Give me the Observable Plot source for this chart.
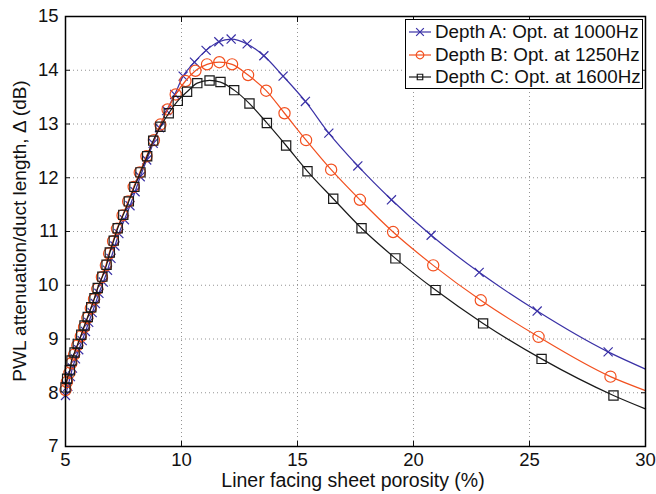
<!DOCTYPE html>
<html>
<head>
<meta charset="utf-8">
<script src="https://cdn.jsdelivr.net/npm/d3@7"></script>
<script src="https://cdn.jsdelivr.net/npm/@observablehq/plot@0.6"></script>
<style>
  html, body { margin: 0; padding: 0; background: #fff; }
  #wrap { position: relative; width: 656px; height: 494px; font-family: "Liberation Sans", Arial, sans-serif; }
  #legend { position: absolute; left: 405px; top: 19px; width: 236px; height: 68px; border: 1.5px solid #000; background: #fff; box-sizing: content-box; }
  .row { position: absolute; left: 0; height: 22px; display: flex; align-items: center; font-size: 18.8px; color: #111; white-space: nowrap; }
  .row svg { margin-left: 3px; margin-right: 4px; }
</style>
</head>
<body>
<div id="wrap"></div>
<script>
// Porosity (%) and attenuation (dB) at marker positions, per series
const xA = [5.0,5.1,5.21,5.3,5.43,5.57,5.72,5.86,6.0,6.15,6.29,6.44,6.63,6.81,6.96,7.13,7.3,7.54,7.78,8.0,8.22,8.5,8.78,9.05,9.36,9.71,10.07,10.56,11.06,11.61,12.14,12.83,13.55,14.38,15.34,16.35,17.6,19.05,20.76,22.83,25.33,28.39];
const yA = [7.95,8.12,8.3,8.46,8.63,8.8,8.97,9.14,9.31,9.49,9.66,9.85,10.06,10.28,10.5,10.73,10.96,11.22,11.48,11.74,12.02,12.33,12.64,12.93,13.25,13.55,13.89,14.15,14.37,14.53,14.58,14.49,14.27,13.89,13.42,12.83,12.22,11.59,10.93,10.24,9.52,8.76];
const xB = [5.0,5.06,5.17,5.25,5.37,5.51,5.66,5.8,5.94,6.09,6.23,6.37,6.57,6.74,6.88,7.05,7.22,7.46,7.7,7.94,8.2,8.49,8.81,9.09,9.4,9.75,10.17,10.6,11.1,11.63,12.18,12.87,13.65,14.44,15.37,16.45,17.69,19.12,20.85,22.9,25.39,28.49];
const yB = [8.05,8.2,8.37,8.55,8.71,8.88,9.05,9.22,9.39,9.57,9.74,9.93,10.15,10.37,10.59,10.82,11.05,11.3,11.56,11.83,12.1,12.4,12.7,12.99,13.27,13.55,13.8,13.99,14.11,14.15,14.11,13.91,13.62,13.2,12.7,12.15,11.59,10.99,10.37,9.72,9.04,8.3];
const xC = [5.0,5.07,5.19,5.26,5.39,5.53,5.68,5.82,5.96,6.11,6.25,6.39,6.59,6.77,6.91,7.08,7.25,7.49,7.73,7.97,8.23,8.52,8.78,9.09,9.45,9.84,10.24,10.68,11.21,11.68,12.27,12.93,13.68,14.51,15.43,16.54,17.76,19.22,20.95,23.0,25.52,28.62];
const yC = [8.1,8.26,8.42,8.6,8.75,8.91,9.08,9.25,9.41,9.59,9.76,9.95,10.16,10.38,10.61,10.83,11.06,11.31,11.56,11.83,12.1,12.4,12.69,12.95,13.2,13.43,13.6,13.76,13.81,13.78,13.63,13.38,13.02,12.6,12.12,11.61,11.06,10.5,9.91,9.29,8.63,7.95];
// line end values at the right edge (x = 30)
const endX = 30;
const endA = 8.44, endB = 8.04, endC = 7.7;

const seriesNames = ["Depth A: Opt. at 1000Hz", "Depth B: Opt. at 1250Hz", "Depth C: Opt. at 1600Hz"];
const colors = ["#3a31a6", "#f2501f", "#1a1a1a"];
const symbols = ["times", "circle", "square"];
const xTicks = [5, 10, 15, 20, 25, 30];
const yTicks = [7, 8, 9, 10, 11, 12, 13, 14, 15];

const toRows = (xs, ys) => xs.map((x, i) => ({x, y: ys[i]}));
const mk = [toRows(xA, yA), toRows(xB, yB), toRows(xC, yC)];
const ln = [mk[0].concat([{x: endX, y: endA}]), mk[1].concat([{x: endX, y: endB}]), mk[2].concat([{x: endX, y: endC}])];
const rs = [4.2, 5.6, 5.2];

const marks = [
  Plot.gridX(xTicks, {stroke: "#888", strokeOpacity: 0.9, strokeDasharray: "1,3", strokeWidth: 1}),
  Plot.gridY(yTicks, {stroke: "#888", strokeOpacity: 0.9, strokeDasharray: "1,3", strokeWidth: 1}),
  Plot.axisX(xTicks, {anchor: "bottom", tickSize: -5, tickPadding: 11, fontSize: 18.5, label: null, tickFormat: d => String(d)}),
  Plot.axisX(xTicks, {anchor: "top", tickSize: -5, tickFormat: () => "", label: null}),
  Plot.axisY(yTicks, {anchor: "left", tickSize: -5, tickPadding: 12, fontSize: 18.5, label: null, tickFormat: d => String(d)}),
  Plot.axisY(yTicks, {anchor: "right", tickSize: -5, tickFormat: () => "", label: null}),
];
for (let i = 0; i < 3; i++) {
  marks.push(Plot.line(ln[i], {x: "x", y: "y", stroke: colors[i], strokeWidth: 1.2, curve: "monotone-x"}));
  marks.push(Plot.dot(mk[i], {x: "x", y: "y", stroke: colors[i], symbol: symbols[i], r: rs[i], strokeWidth: 1.2, fill: "none"}));
}
marks.push(Plot.frame({stroke: "#000", strokeWidth: 1.5}));

const chart = Plot.plot({
  width: 656,
  height: 494,
  marginLeft: 65,
  marginRight: 11,
  marginTop: 16,
  marginBottom: 48,
  style: {fontFamily: "'Liberation Sans', Arial, sans-serif", fontSize: "18.5px", color: "#111", background: "#fff"},
  x: {domain: [5, 30], label: null},
  y: {domain: [7, 15], label: null},
  marks
});
const wrap = document.getElementById("wrap");
wrap.appendChild(chart);

// axis titles as SVG text
const svg = d3.select(chart);
svg.append("text").attr("x", 353).attr("y", 487)
  .attr("text-anchor", "middle").attr("font-size", 19.5).attr("fill", "#111")
  .text("Liner facing sheet porosity (%)");
svg.append("text").attr("transform", `translate(26,${16 + (494 - 16 - 48) / 2}) rotate(-90)`)
  .attr("text-anchor", "middle").attr("font-size", 19).attr("fill", "#111")
  .text("PWL attenuation/duct length, \u0394 (dB)");

// legend
const legend = document.createElement("div");
legend.id = "legend";
seriesNames.forEach((name, i) => {
  const row = document.createElement("div");
  row.className = "row";
  row.style.top = (1 + i * 22.5) + "px";
  const s = d3.create("svg").attr("width", 22).attr("height", 14);
  s.append("line").attr("x1", 0).attr("x2", 22).attr("y1", 7).attr("y2", 7).attr("stroke", colors[i]).attr("stroke-width", 1.2);
  const sym = {times: d3.symbolTimes, circle: d3.symbolCircle, square: d3.symbolSquare}[symbols[i]];
  const size = [40, 45, 30][i];
  s.append("path").attr("d", d3.symbol(sym, size)()).attr("transform", "translate(11,7)")
    .attr("fill", "none").attr("stroke", colors[i]).attr("stroke-width", 1.2);
  row.appendChild(s.node());
  const t = document.createElement("span");
  t.textContent = name;
  row.appendChild(t);
  legend.appendChild(row);
});
wrap.appendChild(legend);
</script>
</body>
</html>
